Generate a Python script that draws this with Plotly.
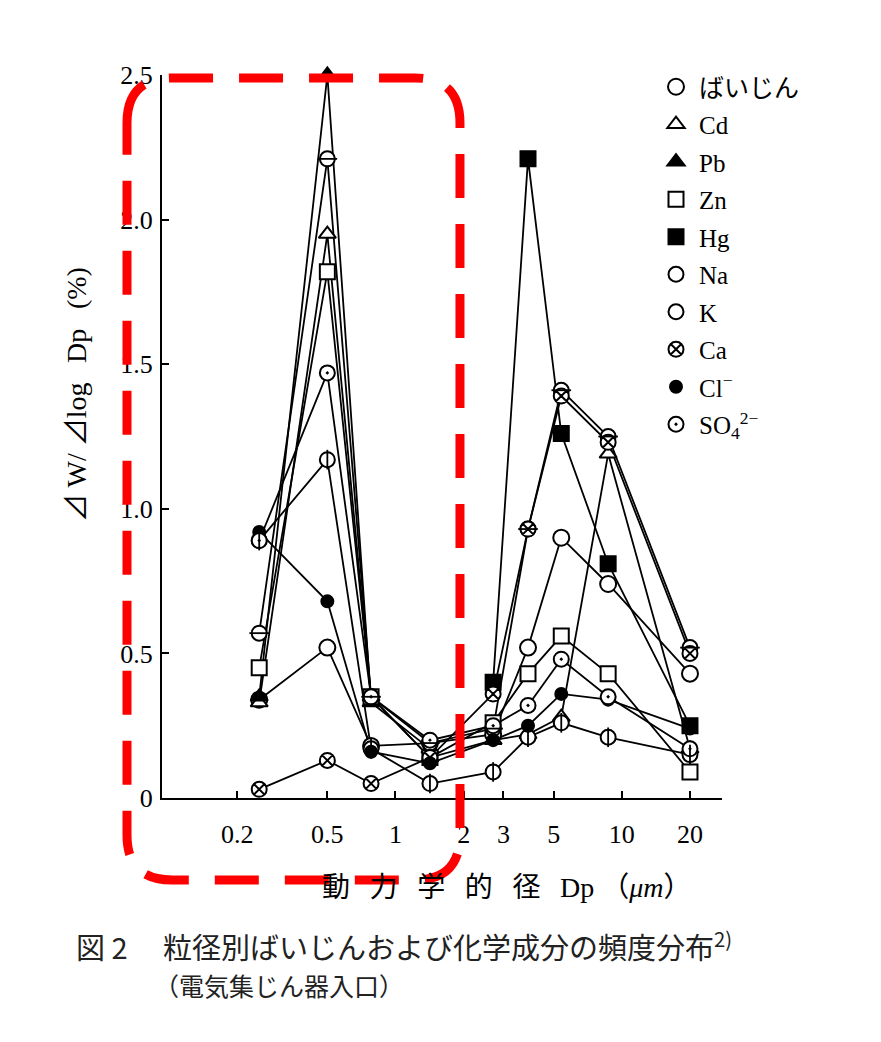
import math
import plotly.graph_objects as go

# ---------------- data ----------------
dp = [0.25, 0.5, 0.78, 1.42, 2.7, 3.85, 5.4, 8.7, 20]

baijin = [0.34, 0.52, 0.18, 0.19, 0.22, 0.52, 0.90, 0.74, 0.43]
cd     = [0.33, 1.95, 0.35, 0.14, 0.20, 0.22, 0.28, 1.19, 0.17]
pb     = [0.35, 2.50, 0.33, 0.17, None, None, None, None, None]
zn     = [0.45, 1.82, 0.35, 0.14, 0.26, 0.43, 0.56, 0.43, 0.09]
hg     = [None, None, None, None, 0.40, 2.21, 1.26, 0.81, 0.25]
na     = [0.89, 1.17, 0.17, 0.05, 0.09, 0.21, 0.26, 0.21, 0.15]
k      = [0.57, 2.21, 0.35, 0.19, 0.24, 0.93, 1.41, 1.25, 0.52]
ca     = [0.03, 0.13, 0.05, 0.14, 0.36, 0.93, 1.39, 1.23, 0.50]
cl     = [0.92, 0.68, 0.16, 0.12, 0.20, 0.25, 0.36, 0.34, 0.24]
so4    = [0.89, 1.47, 0.35, 0.20, 0.25, 0.32, 0.48, 0.35, 0.17]

names = ["ばいじん", "Cd", "Pb", "Zn", "Hg", "Na", "K", "Ca",
         "Cl<sup>−</sup>", "SO<sub>4</sub><sup>2−</sup>"]
series = [baijin, cd, pb, zn, hg, na, k, ca, cl, so4]

xtick_vals = [0.2, 0.5, 1, 2, 3, 5, 10, 20]
xtick_text = ["0.2", "0.5", "1", "2", "3", "5", "10", "20"]
ytick_vals = [0, 0.5, 1.0, 1.5, 2.0, 2.5]
ytick_text = ["0", "0.5", "1.0", "1.5", "2.0", "2.5"]

# ---------------- styles ----------------
OFF = 8  # page body margin
W_, H_ = 881 - OFF, 1042 - OFF
# plot area in page pixels
L, R, T, B = 162, 722, 75, 798
serif = "Liberation Serif, Noto Sans CJK JP, serif"
gothic = "Noto Sans CJK JP, sans-serif"

styles = [
    dict(symbol="circle", size=16, color="white"),
    dict(symbol="triangle-up", size=15, color="white"),
    dict(symbol="triangle-up", size=15, color="black"),
    dict(symbol="square", size=15, color="white"),
    dict(symbol="square", size=15, color="black"),
    dict(symbol="circle", size=15, color="white"),
    dict(symbol="circle", size=15, color="white"),
    dict(symbol="circle-x", size=15, color="white"),
    dict(symbol="circle", size=12, color="black"),
    dict(symbol="circle-dot", size=15, color="white"),
]

fig = go.Figure()

# lines first
for ys in series:
    fig.add_trace(go.Scatter(x=dp, y=ys, mode="lines", showlegend=False,
                             connectgaps=False, hoverinfo="skip",
                             line=dict(color="black", width=1.8),
                             cliponaxis=False))

# markers (legend)
for nm, ys, st in zip(names, series, styles):
    fig.add_trace(go.Scatter(
        x=dp, y=ys, mode="markers", name=nm, legendgroup=nm,
        cliponaxis=False,
        marker=dict(symbol=st["symbol"], size=st["size"], color=st["color"],
                    line=dict(color="black", width=2))))

# inner strokes for Na (vertical) and K (horizontal)
fig.add_trace(go.Scatter(x=dp, y=na, mode="markers", showlegend=False,
                         cliponaxis=False, hoverinfo="skip",
                         marker=dict(symbol="line-ns-open", size=14, color="black",
                                     line=dict(color="black", width=1.8))))
fig.add_trace(go.Scatter(x=dp, y=k, mode="markers", showlegend=False,
                         cliponaxis=False, hoverinfo="skip",
                         marker=dict(symbol="line-ew-open", size=14, color="black",
                                     line=dict(color="black", width=1.8))))


def px(x):
    return (x - L) / (R - L)


def py(y):
    return (B - y) / (B - T)


# red dashed rounded rectangle
rl, rr, rt, rb, rad = 127, 460, 78, 880, 45
pts = [
    ("M", [(rl, rt + rad)]),
    ("Q", [(rl, rt), (rl + rad, rt)]),
    ("L", [(rr - rad, rt)]),
    ("Q", [(rr, rt), (rr, rt + rad)]),
    ("L", [(rr, rb - rad)]),
    ("Q", [(rr, rb), (rr - rad, rb)]),
    ("L", [(rl + rad, rb)]),
    ("Q", [(rl, rb), (rl, rb - rad)]),
]
path = ""
for cmd, pp in pts:
    path += cmd + " " + " ".join(f"{px(a):.4f},{py(b):.4f}" for a, b in pp) + " "
path += "Z"

fig.add_shape(type="path", path=path, xref="paper", yref="paper",
              line=dict(color="#ff0000", width=9, dash="44px,26px"),
              layer="above")

sp = "\u2002\u2009"
annotations = [
    dict(text="⊿ W/ ⊿log" + sp + "Dp" + sp + "(%)", x=px(76), y=py(395), textangle=-90,
         font=dict(family=serif, size=28, color="black")),
    dict(text=sp.join(["動", "力", "学", "的", "径", "Dp"]) + " （<i>μm</i>）",
         x=px(507), y=py(887),
         font=dict(family=serif, size=28, color="black")),
    dict(text="図 2　 粒径別ばいじんおよび化学成分の頻度分布<sup>2)</sup>",
         x=px(74), y=py(945), xanchor="left",
         font=dict(family=gothic, size=29, color="#222")),
    dict(text="（電気集じん器入口）", x=px(152), y=py(985), xanchor="left",
         font=dict(family=gothic, size=25, color="#222")),
]
for a in annotations:
    a.setdefault("xanchor", "center")
    a.update(xref="paper", yref="paper", showarrow=False, yanchor="middle")

fig.update_layout(
    width=W_, height=H_,
    margin=dict(l=L - OFF, r=W_ - (R - OFF), t=T - OFF, b=H_ - (B - OFF),
                autoexpand=False),
    paper_bgcolor="white", plot_bgcolor="white",
    annotations=annotations,
    legend=dict(x=px(653), y=py(64), xanchor="left", yanchor="top",
                font=dict(family=serif, size=25, color="black"),
                tracegroupgap=2, bgcolor="rgba(0,0,0,0)", itemwidth=36),
    xaxis=dict(type="log", range=[math.log10(0.093), math.log10(27.7)],
               tickvals=xtick_vals, ticktext=xtick_text, automargin=False,
               ticks="inside", ticklen=7, tickwidth=1.5, tickcolor="black",
               showline=True, linecolor="black", linewidth=2,
               showgrid=False, zeroline=False, ticklabelstandoff=12,
               tickfont=dict(family=serif, size=26, color="black")),
    yaxis=dict(range=[0, 2.5], tickvals=ytick_vals, ticktext=ytick_text,
               automargin=False,
               ticks="inside", ticklen=7, tickwidth=1.5, tickcolor="black",
               showline=True, linecolor="black", linewidth=2,
               showgrid=False, zeroline=False, ticklabelstandoff=2,
               tickfont=dict(family=serif, size=26, color="black")),
)

fig.write_html("out.html")
